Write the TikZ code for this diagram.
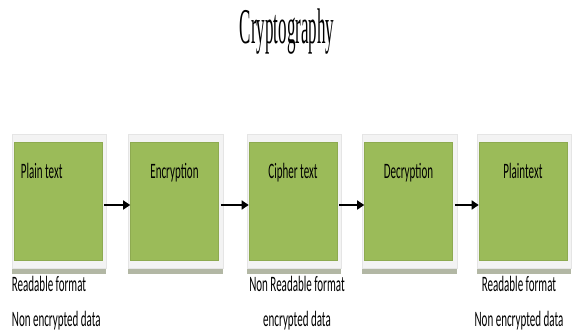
\documentclass[tikz,border=0pt]{standalone}
\usepackage{graphicx}
\usepackage{fontspec}
\setmainfont{Carlito}
\newfontfamily\titlefont{Liberation Serif}
\usetikzlibrary{arrows.meta,backgrounds}
\definecolor{stagegreen}{HTML}{9BBB59}
\definecolor{stageline}{HTML}{8DAA50}
\definecolor{framegray}{HTML}{F3F3F3}
\definecolor{shadowgray}{HTML}{B2B7A4}
\newcommand{\squeeze}[1]{\scalebox{0.5}[1]{#1}}
\tikzset{
  stage/.style={rectangle, fill=stagegreen, draw=stageline, line width=0.6pt,
    minimum width=88pt, minimum height=118pt, inner sep=0pt},
  stagename/.style={font=\fontsize{22}{26}\selectfont, inner sep=0pt, anchor=base},
  note/.style={font=\fontsize{22}{26}\selectfont, inner sep=0pt, anchor=base},
  flow/.style={-{Triangle[length=7pt,width=9pt]}, line width=1.6pt, shorten <=2pt},
}
\begin{document}
\begin{tikzpicture}[x=1pt,y=-1pt]
    \useasboundingbox (0,0) rectangle (572,335);
    \node[font=\titlefont\fontsize{50}{50}\selectfont, inner sep=0pt, anchor=base] (T) at (287,43) {\scalebox{0.34}[1]{Cryptography}};

    \node[stage] (A) at (58,201) {};
    \node[stage] (B) at (174.5,201) {};
    \node[stage] (C) at (293,201) {};
    \node[stage] (D) at (408.5,201) {};
    \node[stage] (E) at (523,201) {};

    % white frames with shadow
    \begin{scope}[on background layer]
        \foreach \n in {A,B,C,D,E}{
            \fill[shadowgray] ([xshift=-2pt,yshift=-6pt]\n.south west) rectangle ([xshift=4pt,yshift=-14pt]\n.south east);
            \filldraw[fill=framegray, draw=gray!20] ([xshift=-2pt,yshift=8pt]\n.north west) rectangle ([xshift=4pt,yshift=-8pt]\n.south east);
        }
    \end{scope}

    \node[stagename, anchor=base west] (At) at ([xshift=7pt,yshift=-37pt]A.north west) {\squeeze{Plain text}};
    \node[stagename] (Bt) at ([yshift=-37pt]B.north) {\squeeze{Encryption}};
    \node[stagename] (Ct) at ([yshift=-37pt]C.north) {\squeeze{Cipher text}};
    \node[stagename] (Dt) at ([yshift=-37pt]D.north) {\squeeze{Decryption}};
    \node[stagename] (Et) at ([yshift=-37pt]E.north) {\squeeze{Plaintext}};

    \foreach \a/\b in {A/B,B/C,C/D,D/E}
        \draw[flow] ([yshift=-4pt]\a.east) -- ([yshift=-4pt]\b.west);

    % notes below
    \node[note, anchor=base west] (An1) at ([xshift=-2pt,yshift=-31pt]A.south west) {\squeeze{Readable format}};
    \node[note, anchor=base west] (An2) at ([yshift=-35pt]An1.base west) {\squeeze{Non encrypted data}};
    \node[note] (Cn1) at ([xshift=4pt,yshift=-31pt]C.south) {\squeeze{Non Readable format}};
    \node[note] (Cn2) at ([yshift=-35pt]Cn1.base) {\squeeze{encrypted data}};
    \node[note] (En1) at ([xshift=-4pt,yshift=-31pt]E.south) {\squeeze{Readable format}};
    \node[note] (En2) at ([yshift=-35pt]En1.base) {\squeeze{Non encrypted data}};
\end{tikzpicture}
\end{document}
